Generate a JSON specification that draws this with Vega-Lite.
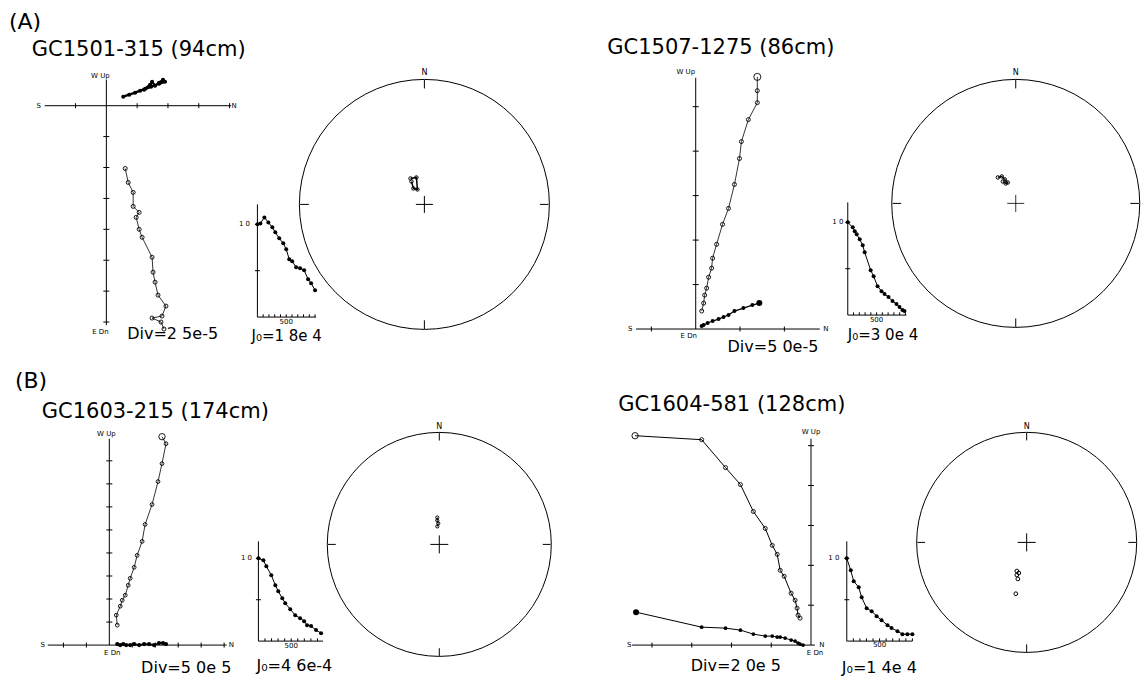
{
"$schema":"https://vega.github.io/schema/vega-lite/v6.json",
"width":1142,"height":677,
"autosize":{"type":"fit","contains":"padding"},
"padding":0,
"background":"white",
"config":{"view":{"stroke":null},"font":"DejaVu Sans","text":{"font":"DejaVu Sans","color":"black"}},
"resolve":{"scale":{"x":"independent","y":"independent"}},
"datasets":{
"zij":[
{"s":"GC1501-315","p":"V","i":0,"x":0.613,"y":-2.032},{"s":"GC1501-315","p":"V","i":1,"x":0.71,"y":-2.484},{"s":"GC1501-315","p":"V","i":2,"x":0.871,"y":-2.806},{"s":"GC1501-315","p":"V","i":3,"x":0.871,"y":-3.258},{"s":"GC1501-315","p":"V","i":4,"x":1.065,"y":-3.452},{"s":"GC1501-315","p":"V","i":5,"x":0.968,"y":-3.613},{"s":"GC1501-315","p":"V","i":6,"x":1.065,"y":-4.0},{"s":"GC1501-315","p":"V","i":7,"x":1.161,"y":-4.258},{"s":"GC1501-315","p":"V","i":8,"x":1.484,"y":-4.903},{"s":"GC1501-315","p":"V","i":9,"x":1.516,"y":-5.387},{"s":"GC1501-315","p":"V","i":10,"x":1.581,"y":-5.71},{"s":"GC1501-315","p":"V","i":11,"x":1.677,"y":-6.129},{"s":"GC1501-315","p":"V","i":12,"x":1.935,"y":-6.484},{"s":"GC1501-315","p":"V","i":13,"x":1.806,"y":-6.806},{"s":"GC1501-315","p":"V","i":14,"x":1.484,"y":-6.871},{"s":"GC1501-315","p":"V","i":15,"x":1.774,"y":-7.0},{"s":"GC1501-315","p":"V","i":16,"x":1.871,"y":-7.226},
{"s":"GC1501-315","p":"H","i":0,"x":0.548,"y":0.29},{"s":"GC1501-315","p":"H","i":1,"x":0.742,"y":0.355},{"s":"GC1501-315","p":"H","i":2,"x":0.935,"y":0.419},{"s":"GC1501-315","p":"H","i":3,"x":1.097,"y":0.484},{"s":"GC1501-315","p":"H","i":4,"x":1.258,"y":0.548},{"s":"GC1501-315","p":"H","i":5,"x":1.419,"y":0.677},{"s":"GC1501-315","p":"H","i":6,"x":1.484,"y":0.774},{"s":"GC1501-315","p":"H","i":7,"x":1.581,"y":0.645},{"s":"GC1501-315","p":"H","i":8,"x":1.71,"y":0.742},{"s":"GC1501-315","p":"H","i":9,"x":1.839,"y":0.839},{"s":"GC1501-315","p":"H","i":10,"x":1.903,"y":0.774},{"s":"GC1501-315","p":"H","i":11,"x":1.71,"y":0.71},{"s":"GC1501-315","p":"H","i":12,"x":1.452,"y":0.613},{"s":"GC1501-315","p":"H","i":13,"x":1.226,"y":0.516},
{"s":"GC1507-1275","p":"V","i":0,"x":1.39,"y":5.67},{"s":"GC1507-1275","p":"V","i":1,"x":1.39,"y":5.36},{"s":"GC1507-1275","p":"V","i":2,"x":1.39,"y":5.09},{"s":"GC1507-1275","p":"V","i":3,"x":1.188,"y":4.709},{"s":"GC1507-1275","p":"V","i":4,"x":1.031,"y":4.215},{"s":"GC1507-1275","p":"V","i":5,"x":0.987,"y":3.834},{"s":"GC1507-1275","p":"V","i":6,"x":0.874,"y":3.251},{"s":"GC1507-1275","p":"V","i":7,"x":0.74,"y":2.713},{"s":"GC1507-1275","p":"V","i":8,"x":0.605,"y":2.354},{"s":"GC1507-1275","p":"V","i":9,"x":0.471,"y":1.906},{"s":"GC1507-1275","p":"V","i":10,"x":0.381,"y":1.592},{"s":"GC1507-1275","p":"V","i":11,"x":0.359,"y":1.368},{"s":"GC1507-1275","p":"V","i":12,"x":0.291,"y":1.166},{"s":"GC1507-1275","p":"V","i":13,"x":0.247,"y":0.919},{"s":"GC1507-1275","p":"V","i":14,"x":0.202,"y":0.762},{"s":"GC1507-1275","p":"V","i":15,"x":0.179,"y":0.583},{"s":"GC1507-1275","p":"V","i":16,"x":0.135,"y":0.404},
{"s":"GC1507-1275","p":"H","i":0,"x":1.435,"y":0.583},{"s":"GC1507-1275","p":"H","i":1,"x":1.278,"y":0.538},{"s":"GC1507-1275","p":"H","i":2,"x":1.076,"y":0.471},{"s":"GC1507-1275","p":"H","i":3,"x":0.874,"y":0.404},{"s":"GC1507-1275","p":"H","i":4,"x":0.74,"y":0.314},{"s":"GC1507-1275","p":"H","i":5,"x":0.628,"y":0.269},{"s":"GC1507-1275","p":"H","i":6,"x":0.516,"y":0.224},{"s":"GC1507-1275","p":"H","i":7,"x":0.381,"y":0.179},{"s":"GC1507-1275","p":"H","i":8,"x":0.269,"y":0.135},{"s":"GC1507-1275","p":"H","i":9,"x":0.179,"y":0.09},{"s":"GC1507-1275","p":"H","i":10,"x":0.135,"y":0.067},
{"s":"GC1603-215","p":"V","i":0,"x":2.294,"y":9.048},{"s":"GC1603-215","p":"V","i":1,"x":2.468,"y":8.745},{"s":"GC1603-215","p":"V","i":2,"x":2.294,"y":7.879},{"s":"GC1603-215","p":"V","i":3,"x":2.121,"y":7.1},{"s":"GC1603-215","p":"V","i":4,"x":1.861,"y":6.104},{"s":"GC1603-215","p":"V","i":5,"x":1.558,"y":5.238},{"s":"GC1603-215","p":"V","i":6,"x":1.429,"y":4.502},{"s":"GC1603-215","p":"V","i":7,"x":1.212,"y":3.896},{"s":"GC1603-215","p":"V","i":8,"x":1.082,"y":3.377},{"s":"GC1603-215","p":"V","i":9,"x":0.909,"y":2.9},{"s":"GC1603-215","p":"V","i":10,"x":0.823,"y":2.597},{"s":"GC1603-215","p":"V","i":11,"x":0.693,"y":2.165},{"s":"GC1603-215","p":"V","i":12,"x":0.563,"y":1.948},{"s":"GC1603-215","p":"V","i":13,"x":0.476,"y":1.688},{"s":"GC1603-215","p":"V","i":14,"x":0.303,"y":1.299},{"s":"GC1603-215","p":"V","i":15,"x":0.346,"y":0.866},
{"s":"GC1603-215","p":"H","i":0,"x":2.468,"y":0.043},{"s":"GC1603-215","p":"H","i":1,"x":2.338,"y":0.087},{"s":"GC1603-215","p":"H","i":2,"x":2.165,"y":0.087},{"s":"GC1603-215","p":"H","i":3,"x":1.948,"y":0.0},{"s":"GC1603-215","p":"H","i":4,"x":1.732,"y":0.043},{"s":"GC1603-215","p":"H","i":5,"x":1.515,"y":0.043},{"s":"GC1603-215","p":"H","i":6,"x":1.299,"y":0.0},{"s":"GC1603-215","p":"H","i":7,"x":1.082,"y":0.043},{"s":"GC1603-215","p":"H","i":8,"x":0.909,"y":0.0},{"s":"GC1603-215","p":"H","i":9,"x":0.736,"y":0.0},{"s":"GC1603-215","p":"H","i":10,"x":0.606,"y":0.043},{"s":"GC1603-215","p":"H","i":11,"x":0.476,"y":0.0},{"s":"GC1603-215","p":"H","i":12,"x":0.346,"y":0.043},
{"s":"GC1604-581","p":"V","i":0,"x":-4.425,"y":5.25},{"s":"GC1604-581","p":"V","i":1,"x":-2.75,"y":5.15},{"s":"GC1604-581","p":"V","i":2,"x":-2.15,"y":4.45},{"s":"GC1604-581","p":"V","i":3,"x":-1.775,"y":4.025},{"s":"GC1604-581","p":"V","i":4,"x":-1.45,"y":3.35},{"s":"GC1604-581","p":"V","i":5,"x":-1.15,"y":2.925},{"s":"GC1604-581","p":"V","i":6,"x":-0.975,"y":2.5},{"s":"GC1604-581","p":"V","i":7,"x":-0.85,"y":2.275},{"s":"GC1604-581","p":"V","i":8,"x":-0.775,"y":1.875},{"s":"GC1604-581","p":"V","i":9,"x":-0.675,"y":1.725},{"s":"GC1604-581","p":"V","i":10,"x":-0.5,"y":1.3},{"s":"GC1604-581","p":"V","i":11,"x":-0.4,"y":1.125},{"s":"GC1604-581","p":"V","i":12,"x":-0.35,"y":0.925},{"s":"GC1604-581","p":"V","i":13,"x":-0.325,"y":0.75},{"s":"GC1604-581","p":"V","i":14,"x":-0.275,"y":0.675},
{"s":"GC1604-581","p":"H","i":0,"x":-4.4,"y":0.825},{"s":"GC1604-581","p":"H","i":1,"x":-2.75,"y":0.45},{"s":"GC1604-581","p":"H","i":2,"x":-2.15,"y":0.425},{"s":"GC1604-581","p":"H","i":3,"x":-1.775,"y":0.375},{"s":"GC1604-581","p":"H","i":4,"x":-1.45,"y":0.275},{"s":"GC1604-581","p":"H","i":5,"x":-1.15,"y":0.225},{"s":"GC1604-581","p":"H","i":6,"x":-0.975,"y":0.225},{"s":"GC1604-581","p":"H","i":7,"x":-0.85,"y":0.2},{"s":"GC1604-581","p":"H","i":8,"x":-0.775,"y":0.2},{"s":"GC1604-581","p":"H","i":9,"x":-0.65,"y":0.175},{"s":"GC1604-581","p":"H","i":10,"x":-0.5,"y":0.125},{"s":"GC1604-581","p":"H","i":11,"x":-0.4,"y":0.1},{"s":"GC1604-581","p":"H","i":12,"x":-0.325,"y":0.05},{"s":"GC1604-581","p":"H","i":13,"x":-0.275,"y":0.025},{"s":"GC1604-581","p":"H","i":14,"x":-0.2,"y":0.0}
],
"zaxes":[
{"s":"GC1501-315","x":-2.0,"y":0,"x2":4.05,"y2":0},{"s":"GC1501-315","x":0,"y":0.839,"x2":0,"y2":-7.1},
{"s":"GC1507-1275","x":-1.345,"y":0,"x2":2.8,"y2":0},{"s":"GC1507-1275","x":0,"y":5.65,"x2":0,"y2":0},
{"s":"GC1603-215","x":-2.684,"y":0,"x2":5.108,"y2":0},{"s":"GC1603-215","x":0,"y":8.96,"x2":0,"y2":0},
{"s":"GC1604-581","x":-4.5,"y":0,"x2":0.1,"y2":0},{"s":"GC1604-581","x":0,"y":5.175,"x2":0,"y2":0}
],
"zticks":[
{"s":"GC1501-315","ax":"v","x":0,"y":-1},{"s":"GC1501-315","ax":"v","x":0,"y":-2},{"s":"GC1501-315","ax":"v","x":0,"y":-3},{"s":"GC1501-315","ax":"v","x":0,"y":-4},{"s":"GC1501-315","ax":"v","x":0,"y":-5},{"s":"GC1501-315","ax":"v","x":0,"y":-6},{"s":"GC1501-315","ax":"v","x":0,"y":-7},
{"s":"GC1501-315","ax":"h","x":-1,"y":0},{"s":"GC1501-315","ax":"h","x":1,"y":0},{"s":"GC1501-315","ax":"h","x":2,"y":0},{"s":"GC1501-315","ax":"h","x":3,"y":0},{"s":"GC1501-315","ax":"h","x":4,"y":0},
{"s":"GC1507-1275","ax":"v","x":0,"y":1},{"s":"GC1507-1275","ax":"v","x":0,"y":2},{"s":"GC1507-1275","ax":"v","x":0,"y":3},{"s":"GC1507-1275","ax":"v","x":0,"y":4},{"s":"GC1507-1275","ax":"v","x":0,"y":5},
{"s":"GC1507-1275","ax":"h","x":-1,"y":0},{"s":"GC1507-1275","ax":"h","x":1,"y":0},{"s":"GC1507-1275","ax":"h","x":2,"y":0},
{"s":"GC1603-215","ax":"v","x":0,"y":1},{"s":"GC1603-215","ax":"v","x":0,"y":2},{"s":"GC1603-215","ax":"v","x":0,"y":3},{"s":"GC1603-215","ax":"v","x":0,"y":4},{"s":"GC1603-215","ax":"v","x":0,"y":5},{"s":"GC1603-215","ax":"v","x":0,"y":6},{"s":"GC1603-215","ax":"v","x":0,"y":7},{"s":"GC1603-215","ax":"v","x":0,"y":8},
{"s":"GC1603-215","ax":"h","x":-2,"y":0},{"s":"GC1603-215","ax":"h","x":-1,"y":0},{"s":"GC1603-215","ax":"h","x":1,"y":0},{"s":"GC1603-215","ax":"h","x":2,"y":0},{"s":"GC1603-215","ax":"h","x":3,"y":0},{"s":"GC1603-215","ax":"h","x":4,"y":0},{"s":"GC1603-215","ax":"h","x":5,"y":0},
{"s":"GC1604-581","ax":"v","x":0,"y":1},{"s":"GC1604-581","ax":"v","x":0,"y":2},{"s":"GC1604-581","ax":"v","x":0,"y":3},{"s":"GC1604-581","ax":"v","x":0,"y":4},{"s":"GC1604-581","ax":"v","x":0,"y":5},
{"s":"GC1604-581","ax":"h","x":-1,"y":0},{"s":"GC1604-581","ax":"h","x":-2,"y":0},{"s":"GC1604-581","ax":"h","x":-3,"y":0},{"s":"GC1604-581","ax":"h","x":-4,"y":0}
],
"decay":[
{"s":"GC1501-315","x":0,"y":1.0},{"s":"GC1501-315","x":52,"y":1.01},{"s":"GC1501-315","x":121,"y":1.075},{"s":"GC1501-315","x":190,"y":1.02},{"s":"GC1501-315","x":259,"y":0.968},{"s":"GC1501-315","x":310,"y":0.914},{"s":"GC1501-315","x":379,"y":0.849},{"s":"GC1501-315","x":448,"y":0.796},{"s":"GC1501-315","x":500,"y":0.731},{"s":"GC1501-315","x":552,"y":0.624},{"s":"GC1501-315","x":603,"y":0.602},{"s":"GC1501-315","x":672,"y":0.538},{"s":"GC1501-315","x":741,"y":0.527},{"s":"GC1501-315","x":810,"y":0.505},{"s":"GC1501-315","x":879,"y":0.409},{"s":"GC1501-315","x":931,"y":0.366},{"s":"GC1501-315","x":1000,"y":0.29},
{"s":"GC1507-1275","x":0,"y":1.0},{"s":"GC1507-1275","x":86,"y":0.946},{"s":"GC1507-1275","x":121,"y":0.903},{"s":"GC1507-1275","x":155,"y":0.871},{"s":"GC1507-1275","x":207,"y":0.817},{"s":"GC1507-1275","x":259,"y":0.753},{"s":"GC1507-1275","x":293,"y":0.677},{"s":"GC1507-1275","x":397,"y":0.484},{"s":"GC1507-1275","x":448,"y":0.419},{"s":"GC1507-1275","x":517,"y":0.312},{"s":"GC1507-1275","x":586,"y":0.258},{"s":"GC1507-1275","x":638,"y":0.226},{"s":"GC1507-1275","x":707,"y":0.194},{"s":"GC1507-1275","x":776,"y":0.151},{"s":"GC1507-1275","x":845,"y":0.118},{"s":"GC1507-1275","x":897,"y":0.086},{"s":"GC1507-1275","x":948,"y":0.054},{"s":"GC1507-1275","x":983,"y":0.043},
{"s":"GC1603-215","x":0,"y":1.0},{"s":"GC1603-215","x":76,"y":0.976},{"s":"GC1603-215","x":121,"y":0.904},{"s":"GC1603-215","x":197,"y":0.795},{"s":"GC1603-215","x":258,"y":0.675},{"s":"GC1603-215","x":303,"y":0.602},{"s":"GC1603-215","x":364,"y":0.518},{"s":"GC1603-215","x":409,"y":0.458},{"s":"GC1603-215","x":485,"y":0.386},{"s":"GC1603-215","x":561,"y":0.313},{"s":"GC1603-215","x":636,"y":0.277},{"s":"GC1603-215","x":697,"y":0.241},{"s":"GC1603-215","x":742,"y":0.193},{"s":"GC1603-215","x":803,"y":0.181},{"s":"GC1603-215","x":879,"y":0.133},{"s":"GC1603-215","x":955,"y":0.096},
{"s":"GC1604-581","x":0,"y":1.0},{"s":"GC1604-581","x":61,"y":0.855},{"s":"GC1604-581","x":106,"y":0.723},{"s":"GC1604-581","x":182,"y":0.651},{"s":"GC1604-581","x":227,"y":0.53},{"s":"GC1604-581","x":303,"y":0.398},{"s":"GC1604-581","x":379,"y":0.361},{"s":"GC1604-581","x":455,"y":0.301},{"s":"GC1604-581","x":530,"y":0.253},{"s":"GC1604-581","x":621,"y":0.193},{"s":"GC1604-581","x":682,"y":0.157},{"s":"GC1604-581","x":773,"y":0.12},{"s":"GC1604-581","x":848,"y":0.084},{"s":"GC1604-581","x":924,"y":0.084},{"s":"GC1604-581","x":1000,"y":0.084}
],
"daxes":[
{"s":"GC1501-315","x":0,"y":0,"x2":0,"y2":1.215},{"s":"GC1501-315","x":0,"y":0,"x2":1017,"y2":0},
{"s":"GC1507-1275","x":0,"y":0,"x2":0,"y2":1.215},{"s":"GC1507-1275","x":0,"y":0,"x2":1017,"y2":0},
{"s":"GC1603-215","x":0,"y":0,"x2":0,"y2":1.205},{"s":"GC1603-215","x":0,"y":0,"x2":985,"y2":0},
{"s":"GC1604-581","x":0,"y":0,"x2":0,"y2":1.205},{"s":"GC1604-581","x":0,"y":0,"x2":1000,"y2":0}
],
"dticks":[
{"ax":"v","x":0,"y":0.5},{"ax":"v","x":0,"y":1.0},
{"ax":"h","x":100,"y":0},{"ax":"h","x":200,"y":0},{"ax":"h","x":300,"y":0},{"ax":"h","x":400,"y":0},{"ax":"h","x":500,"y":0},{"ax":"h","x":600,"y":0},{"ax":"h","x":700,"y":0},{"ax":"h","x":800,"y":0},{"ax":"h","x":900,"y":0},{"ax":"h","x":1000,"y":0}
],
"dirs":[
{"s":"GC1501-315","i":0,"x":-0.112,"y":0.208},{"s":"GC1501-315","i":1,"x":-0.064,"y":0.216},{"s":"GC1501-315","i":2,"x":-0.056,"y":0.12},{"s":"GC1501-315","i":3,"x":-0.088,"y":0.128},{"s":"GC1501-315","i":4,"x":-0.104,"y":0.184},
{"s":"GC1507-1275","i":0,"x":-0.145,"y":0.21},{"s":"GC1507-1275","i":1,"x":-0.113,"y":0.218},{"s":"GC1507-1275","i":2,"x":-0.089,"y":0.194},{"s":"GC1507-1275","i":3,"x":-0.065,"y":0.169},{"s":"GC1507-1275","i":4,"x":-0.081,"y":0.161},{"s":"GC1507-1275","i":5,"x":-0.105,"y":0.177},
{"s":"GC1603-215","i":0,"x":-0.018,"y":0.241},{"s":"GC1603-215","i":1,"x":-0.018,"y":0.214},{"s":"GC1603-215","i":2,"x":-0.009,"y":0.188},{"s":"GC1603-215","i":3,"x":-0.018,"y":0.161},
{"s":"GC1604-581","i":0,"x":-0.09,"y":-0.261},{"s":"GC1604-581","i":1,"x":-0.072,"y":-0.279},{"s":"GC1604-581","i":2,"x":-0.09,"y":-0.297},{"s":"GC1604-581","i":3,"x":-0.081,"y":-0.333},{"s":"GC1604-581","i":4,"x":-0.099,"y":-0.468}
],
"net":[{"x":0,"y":1,"x2":0,"y2":0.93},{"x":0,"y":-1,"x2":0,"y2":-0.93},{"x":1,"y":0,"x2":0.93,"y2":0},{"x":-1,"y":0,"x2":-0.93,"y2":0}],
"center":[{"x":0,"y":0}],
"netlabel":[{"x":0,"y":1.055,"text":"N"}],
"labels":[
{"s":"GC1501-315","plot":"zij","role":"panel","x":-3.161,"y":2.484,"text":"(A)"},
{"s":"GC1501-315","plot":"zij","role":"title","x":-2.419,"y":1.613,"text":"GC1501-315 (94cm)"},
{"s":"GC1501-315","plot":"zij","role":"note","x":0.677,"y":-7.548,"text":"Div=2 5e-5"},
{"s":"GC1501-315","plot":"zij","role":"tiny","x":-0.194,"y":0.968,"text":"W Up"},
{"s":"GC1501-315","plot":"zij","role":"tiny","x":-0.194,"y":-7.323,"text":"E Dn"},
{"s":"GC1501-315","plot":"zij","role":"tiny","x":-2.194,"y":0,"text":"S"},
{"s":"GC1501-315","plot":"zij","role":"tiny","x":4.15,"y":0,"text":"N"},
{"s":"GC1501-315","plot":"decay","role":"tiny","x":-224,"y":1.0,"text":"1 0"},
{"s":"GC1501-315","plot":"decay","role":"tiny","x":500,"y":-0.054,"text":"500"},
{"s":"GC1501-315","plot":"decay","role":"note","x":-103,"y":-0.258,"text":"J₀=1 8e 4"},
{"s":"GC1507-1275","plot":"zij","role":"title","x":-1.996,"y":6.188,"text":"GC1507-1275 (86cm)"},
{"s":"GC1507-1275","plot":"zij","role":"note","x":0.717,"y":-0.516,"text":"Div=5 0e-5"},
{"s":"GC1507-1275","plot":"zij","role":"tiny","x":-0.224,"y":5.785,"text":"W Up"},
{"s":"GC1507-1275","plot":"zij","role":"tiny","x":-0.157,"y":-0.157,"text":"E Dn"},
{"s":"GC1507-1275","plot":"zij","role":"tiny","x":-1.48,"y":0,"text":"S"},
{"s":"GC1507-1275","plot":"zij","role":"tiny","x":2.937,"y":0,"text":"N"},
{"s":"GC1507-1275","plot":"decay","role":"tiny","x":-172,"y":1.0,"text":"1 0"},
{"s":"GC1507-1275","plot":"decay","role":"tiny","x":500,"y":-0.054,"text":"500"},
{"s":"GC1507-1275","plot":"decay","role":"note","x":0,"y":-0.269,"text":"J₀=3 0e 4"},
{"s":"GC1603-215","plot":"zij","role":"panel","x":-4.113,"y":11.169,"text":"(B)"},
{"s":"GC1603-215","plot":"zij","role":"title","x":-2.944,"y":9.87,"text":"GC1603-215 (174cm)"},
{"s":"GC1603-215","plot":"zij","role":"note","x":1.385,"y":-1.212,"text":"Div=5 0e 5"},
{"s":"GC1603-215","plot":"zij","role":"tiny","x":-0.13,"y":9.177,"text":"W Up"},
{"s":"GC1603-215","plot":"zij","role":"tiny","x":0.13,"y":-0.346,"text":"E Dn"},
{"s":"GC1603-215","plot":"zij","role":"tiny","x":-2.9,"y":0,"text":"S"},
{"s":"GC1603-215","plot":"zij","role":"tiny","x":5.32,"y":0,"text":"N"},
{"s":"GC1603-215","plot":"decay","role":"tiny","x":-182,"y":1.0,"text":"1 0"},
{"s":"GC1603-215","plot":"decay","role":"tiny","x":500,"y":-0.06,"text":"500"},
{"s":"GC1603-215","plot":"decay","role":"note","x":-30,"y":-0.361,"text":"J₀=4 6e-4"},
{"s":"GC1604-581","plot":"zij","role":"title","x":-4.85,"y":5.875,"text":"GC1604-581 (128cm)"},
{"s":"GC1604-581","plot":"zij","role":"note","x":-3.025,"y":-0.65,"text":"Div=2 0e 5"},
{"s":"GC1604-581","plot":"zij","role":"tiny","x":0,"y":5.35,"text":"W Up"},
{"s":"GC1604-581","plot":"zij","role":"tiny","x":0.1,"y":-0.2,"text":"E Dn"},
{"s":"GC1604-581","plot":"zij","role":"tiny","x":-4.575,"y":0,"text":"S"},
{"s":"GC1604-581","plot":"zij","role":"tiny","x":0.275,"y":0,"text":"N"},
{"s":"GC1604-581","plot":"decay","role":"tiny","x":-197,"y":1.0,"text":"1 0"},
{"s":"GC1604-581","plot":"decay","role":"tiny","x":500,"y":-0.05,"text":"500"},
{"s":"GC1604-581","plot":"decay","role":"note","x":-76,"y":-0.386,"text":"J₀=1 4e 4"}
]
},
"layer":[
{"encoding":{"x":{"field":"x","type":"quantitative","axis":null,"scale":{"domain":[-3.4516,33.3871],"nice":false,"zero":false}},"y":{"field":"y","type":"quantitative","axis":null,"scale":{"domain":[-18.4194,3.4194],"nice":false,"zero":false}}},
"layer":[
{"data":{"name":"zaxes"},"transform":[{"filter":"datum.s==='GC1501-315'"}],"mark":{"type":"rule","color":"black","strokeWidth":1},"encoding":{"x2":{"field":"x2"},"y2":{"field":"y2"}}},
{"data":{"name":"zticks"},"transform":[{"filter":"datum.s==='GC1501-315' && datum.ax==='v'"}],"mark":{"type":"point","shape":"M-1,0L1,0","size":36,"filled":false,"color":"black","strokeWidth":1,"opacity":1}},
{"data":{"name":"zticks"},"transform":[{"filter":"datum.s==='GC1501-315' && datum.ax==='h'"}],"mark":{"type":"point","shape":"M0,-1L0,1","size":25,"filled":false,"color":"black","strokeWidth":1,"opacity":1}},
{"data":{"name":"zij"},"transform":[{"filter":"datum.s==='GC1501-315' && datum.p==='H'"}],"mark":{"type":"line","color":"black","strokeWidth":2.4},"encoding":{"order":{"field":"i","type":"quantitative"}}},
{"data":{"name":"zij"},"transform":[{"filter":"datum.s==='GC1501-315' && datum.p==='H'"}],"mark":{"type":"point","filled":true,"color":"black","size":16,"opacity":1}},
{"data":{"name":"zij"},"transform":[{"filter":"datum.s==='GC1501-315' && datum.p==='V'"}],"mark":{"type":"line","color":"black","strokeWidth":0.8},"encoding":{"order":{"field":"i","type":"quantitative"}}},
{"data":{"name":"zij"},"transform":[{"filter":"datum.s==='GC1501-315' && datum.p==='V'"}],"mark":{"type":"point","filled":false,"color":"black","size":16,"strokeWidth":0.9,"opacity":1}},
{"data":{"name":"labels"},"transform":[{"filter":"datum.s==='GC1501-315' && datum.plot==='zij' && datum.role==='tiny'"}],"mark":{"type":"text","fontSize":7,"align":"center","baseline":"middle"},"encoding":{"text":{"field":"text"}}},
{"data":{"name":"labels"},"transform":[{"filter":"datum.s==='GC1501-315' && datum.plot==='zij' && datum.role==='note'"}],"mark":{"type":"text","fontSize":16,"align":"left","baseline":"alphabetic"},"encoding":{"text":{"field":"text"}}},
{"data":{"name":"labels"},"transform":[{"filter":"datum.s==='GC1501-315' && datum.plot==='zij' && datum.role==='title'"}],"mark":{"type":"text","fontSize":21,"align":"left","baseline":"alphabetic"},"encoding":{"text":{"field":"text"}}},
{"data":{"name":"labels"},"transform":[{"filter":"datum.s==='GC1501-315' && datum.plot==='zij' && datum.role==='panel'"}],"mark":{"type":"text","fontSize":22,"align":"left","baseline":"alphabetic"},"encoding":{"text":{"field":"text"}}}
]},
{"encoding":{"x":{"field":"x","type":"quantitative","axis":null,"scale":{"domain":[-15.6951,9.9103],"nice":false,"zero":false}},"y":{"field":"y","type":"quantitative","axis":null,"scale":{"domain":[-7.7803,7.3991],"nice":false,"zero":false}}},
"layer":[
{"data":{"name":"zaxes"},"transform":[{"filter":"datum.s==='GC1507-1275'"}],"mark":{"type":"rule","color":"black","strokeWidth":1},"encoding":{"x2":{"field":"x2"},"y2":{"field":"y2"}}},
{"data":{"name":"zticks"},"transform":[{"filter":"datum.s==='GC1507-1275' && datum.ax==='v'"}],"mark":{"type":"point","shape":"M-1,0L1,0","size":36,"filled":false,"color":"black","strokeWidth":1,"opacity":1}},
{"data":{"name":"zticks"},"transform":[{"filter":"datum.s==='GC1507-1275' && datum.ax==='h'"}],"mark":{"type":"point","shape":"M0,-1L0,1","size":25,"filled":false,"color":"black","strokeWidth":1,"opacity":1}},
{"data":{"name":"zij"},"transform":[{"filter":"datum.s==='GC1507-1275' && datum.p==='H'"}],"mark":{"type":"line","color":"black","strokeWidth":1.2},"encoding":{"order":{"field":"i","type":"quantitative"}}},
{"data":{"name":"zij"},"transform":[{"filter":"datum.s==='GC1507-1275' && datum.p==='H'"}],"mark":{"type":"point","filled":true,"color":"black","opacity":1},"encoding":{"size":{"condition":{"test":"datum.i===0","value":36},"value":16}}},
{"data":{"name":"zij"},"transform":[{"filter":"datum.s==='GC1507-1275' && datum.p==='V'"}],"mark":{"type":"line","color":"black","strokeWidth":0.8},"encoding":{"order":{"field":"i","type":"quantitative"}}},
{"data":{"name":"zij"},"transform":[{"filter":"datum.s==='GC1507-1275' && datum.p==='V'"}],"mark":{"type":"point","filled":false,"color":"black","strokeWidth":0.9,"opacity":1},"encoding":{"size":{"condition":{"test":"datum.i===0","value":50},"value":16}}},
{"data":{"name":"labels"},"transform":[{"filter":"datum.s==='GC1507-1275' && datum.plot==='zij' && datum.role==='tiny'"}],"mark":{"type":"text","fontSize":7,"align":"center","baseline":"middle"},"encoding":{"text":{"field":"text"}}},
{"data":{"name":"labels"},"transform":[{"filter":"datum.s==='GC1507-1275' && datum.plot==='zij' && datum.role==='note'"}],"mark":{"type":"text","fontSize":16,"align":"left","baseline":"alphabetic"},"encoding":{"text":{"field":"text"}}},
{"data":{"name":"labels"},"transform":[{"filter":"datum.s==='GC1507-1275' && datum.plot==='zij' && datum.role==='title'"}],"mark":{"type":"text","fontSize":21,"align":"left","baseline":"alphabetic"},"encoding":{"text":{"field":"text"}}}
]},
{"encoding":{"x":{"field":"x","type":"quantitative","axis":null,"scale":{"domain":[-4.7619,44.6753],"nice":false,"zero":false}},"y":{"field":"y","type":"quantitative","axis":null,"scale":{"domain":[-1.2987,28.0087],"nice":false,"zero":false}}},
"layer":[
{"data":{"name":"zaxes"},"transform":[{"filter":"datum.s==='GC1603-215'"}],"mark":{"type":"rule","color":"black","strokeWidth":1},"encoding":{"x2":{"field":"x2"},"y2":{"field":"y2"}}},
{"data":{"name":"zticks"},"transform":[{"filter":"datum.s==='GC1603-215' && datum.ax==='v'"}],"mark":{"type":"point","shape":"M-1,0L1,0","size":36,"filled":false,"color":"black","strokeWidth":1,"opacity":1}},
{"data":{"name":"zticks"},"transform":[{"filter":"datum.s==='GC1603-215' && datum.ax==='h'"}],"mark":{"type":"point","shape":"M0,-1L0,1","size":25,"filled":false,"color":"black","strokeWidth":1,"opacity":1}},
{"data":{"name":"zij"},"transform":[{"filter":"datum.s==='GC1603-215' && datum.p==='H'"}],"mark":{"type":"line","color":"black","strokeWidth":1.6},"encoding":{"order":{"field":"i","type":"quantitative"}}},
{"data":{"name":"zij"},"transform":[{"filter":"datum.s==='GC1603-215' && datum.p==='H'"}],"mark":{"type":"point","filled":true,"color":"black","size":18,"opacity":1}},
{"data":{"name":"zij"},"transform":[{"filter":"datum.s==='GC1603-215' && datum.p==='V'"}],"mark":{"type":"line","color":"black","strokeWidth":0.8},"encoding":{"order":{"field":"i","type":"quantitative"}}},
{"data":{"name":"zij"},"transform":[{"filter":"datum.s==='GC1603-215' && datum.p==='V'"}],"mark":{"type":"point","filled":false,"color":"black","strokeWidth":0.9,"opacity":1},"encoding":{"size":{"condition":{"test":"datum.i===0","value":40},"value":14}}},
{"data":{"name":"labels"},"transform":[{"filter":"datum.s==='GC1603-215' && datum.plot==='zij' && datum.role==='tiny'"}],"mark":{"type":"text","fontSize":7,"align":"center","baseline":"middle"},"encoding":{"text":{"field":"text"}}},
{"data":{"name":"labels"},"transform":[{"filter":"datum.s==='GC1603-215' && datum.plot==='zij' && datum.role==='note'"}],"mark":{"type":"text","fontSize":16,"align":"left","baseline":"alphabetic"},"encoding":{"text":{"field":"text"}}},
{"data":{"name":"labels"},"transform":[{"filter":"datum.s==='GC1603-215' && datum.plot==='zij' && datum.role==='title'"}],"mark":{"type":"text","fontSize":21,"align":"left","baseline":"alphabetic"},"encoding":{"text":{"field":"text"}}},
{"data":{"name":"labels"},"transform":[{"filter":"datum.s==='GC1603-215' && datum.plot==='zij' && datum.role==='panel'"}],"mark":{"type":"text","fontSize":22,"align":"left","baseline":"alphabetic"},"encoding":{"text":{"field":"text"}}}
]},
{"encoding":{"x":{"field":"x","type":"quantitative","axis":null,"scale":{"domain":[-20.4,8.15],"nice":false,"zero":false}},"y":{"field":"y","type":"quantitative","axis":null,"scale":{"domain":[-0.75,16.175],"nice":false,"zero":false}}},
"layer":[
{"data":{"name":"zaxes"},"transform":[{"filter":"datum.s==='GC1604-581'"}],"mark":{"type":"rule","color":"black","strokeWidth":1},"encoding":{"x2":{"field":"x2"},"y2":{"field":"y2"}}},
{"data":{"name":"zticks"},"transform":[{"filter":"datum.s==='GC1604-581' && datum.ax==='v'"}],"mark":{"type":"point","shape":"M-1,0L1,0","size":36,"filled":false,"color":"black","strokeWidth":1,"opacity":1}},
{"data":{"name":"zticks"},"transform":[{"filter":"datum.s==='GC1604-581' && datum.ax==='h'"}],"mark":{"type":"point","shape":"M0,-1L0,1","size":25,"filled":false,"color":"black","strokeWidth":1,"opacity":1}},
{"data":{"name":"zij"},"transform":[{"filter":"datum.s==='GC1604-581' && datum.p==='H'"}],"mark":{"type":"line","color":"black","strokeWidth":1},"encoding":{"order":{"field":"i","type":"quantitative"}}},
{"data":{"name":"zij"},"transform":[{"filter":"datum.s==='GC1604-581' && datum.p==='H'"}],"mark":{"type":"point","filled":true,"color":"black","opacity":1},"encoding":{"size":{"condition":{"test":"datum.i===0","value":36},"value":14}}},
{"data":{"name":"zij"},"transform":[{"filter":"datum.s==='GC1604-581' && datum.p==='V'"}],"mark":{"type":"line","color":"black","strokeWidth":1},"encoding":{"order":{"field":"i","type":"quantitative"}}},
{"data":{"name":"zij"},"transform":[{"filter":"datum.s==='GC1604-581' && datum.p==='V'"}],"mark":{"type":"point","filled":false,"color":"black","strokeWidth":0.9,"opacity":1},"encoding":{"size":{"condition":{"test":"datum.i===0","value":40},"value":16}}},
{"data":{"name":"labels"},"transform":[{"filter":"datum.s==='GC1604-581' && datum.plot==='zij' && datum.role==='tiny'"}],"mark":{"type":"text","fontSize":7,"align":"center","baseline":"middle"},"encoding":{"text":{"field":"text"}}},
{"data":{"name":"labels"},"transform":[{"filter":"datum.s==='GC1604-581' && datum.plot==='zij' && datum.role==='note'"}],"mark":{"type":"text","fontSize":16,"align":"left","baseline":"alphabetic"},"encoding":{"text":{"field":"text"}}},
{"data":{"name":"labels"},"transform":[{"filter":"datum.s==='GC1604-581' && datum.plot==='zij' && datum.role==='title'"}],"mark":{"type":"text","fontSize":21,"align":"left","baseline":"alphabetic"},"encoding":{"text":{"field":"text"}}}
]},
{"encoding":{"x":{"field":"x","type":"quantitative","axis":null,"scale":{"domain":[-4465.5,15224.1],"nice":false,"zero":false}},"y":{"field":"y","type":"quantitative","axis":null,"scale":{"domain":[-3.8602,3.4194],"nice":false,"zero":false}}},
"layer":[
{"data":{"name":"daxes"},"transform":[{"filter":"datum.s==='GC1501-315'"}],"mark":{"type":"rule","color":"black","strokeWidth":1},"encoding":{"x2":{"field":"x2"},"y2":{"field":"y2"}}},
{"data":{"name":"dticks"},"transform":[{"filter":"datum.ax==='v'"}],"mark":{"type":"point","shape":"M-1,0L1,0","size":25,"filled":false,"color":"black","strokeWidth":1,"opacity":1}},
{"data":{"name":"dticks"},"transform":[{"filter":"datum.ax==='h'"}],"mark":{"type":"point","shape":"M0,-1L0,0","size":30,"filled":false,"color":"black","strokeWidth":1,"opacity":1}},
{"data":{"name":"decay"},"transform":[{"filter":"datum.s==='GC1501-315'"}],"mark":{"type":"line","color":"black","strokeWidth":1}},
{"data":{"name":"decay"},"transform":[{"filter":"datum.s==='GC1501-315'"}],"mark":{"type":"point","filled":true,"color":"black","size":16,"opacity":1}},
{"data":{"name":"labels"},"transform":[{"filter":"datum.s==='GC1501-315' && datum.plot==='decay' && datum.role==='tiny'"}],"mark":{"type":"text","fontSize":7,"align":"center","baseline":"middle"},"encoding":{"text":{"field":"text"}}},
{"data":{"name":"labels"},"transform":[{"filter":"datum.s==='GC1501-315' && datum.plot==='decay' && datum.role==='note'"}],"mark":{"type":"text","fontSize":15,"align":"left","baseline":"alphabetic"},"encoding":{"text":{"field":"text"}}}
]},
{"encoding":{"x":{"field":"x","type":"quantitative","axis":null,"scale":{"domain":[-14706.9,4982.8],"nice":false,"zero":false}},"y":{"field":"y","type":"quantitative","axis":null,"scale":{"domain":[-3.8817,3.3978],"nice":false,"zero":false}}},
"layer":[
{"data":{"name":"daxes"},"transform":[{"filter":"datum.s==='GC1507-1275'"}],"mark":{"type":"rule","color":"black","strokeWidth":1},"encoding":{"x2":{"field":"x2"},"y2":{"field":"y2"}}},
{"data":{"name":"dticks"},"transform":[{"filter":"datum.ax==='v'"}],"mark":{"type":"point","shape":"M-1,0L1,0","size":25,"filled":false,"color":"black","strokeWidth":1,"opacity":1}},
{"data":{"name":"dticks"},"transform":[{"filter":"datum.ax==='h'"}],"mark":{"type":"point","shape":"M0,-1L0,0","size":30,"filled":false,"color":"black","strokeWidth":1,"opacity":1}},
{"data":{"name":"decay"},"transform":[{"filter":"datum.s==='GC1507-1275'"}],"mark":{"type":"line","color":"black","strokeWidth":1}},
{"data":{"name":"decay"},"transform":[{"filter":"datum.s==='GC1507-1275'"}],"mark":{"type":"point","filled":true,"color":"black","size":16,"opacity":1}},
{"data":{"name":"labels"},"transform":[{"filter":"datum.s==='GC1507-1275' && datum.plot==='decay' && datum.role==='tiny'"}],"mark":{"type":"text","fontSize":7,"align":"center","baseline":"middle"},"encoding":{"text":{"field":"text"}}},
{"data":{"name":"labels"},"transform":[{"filter":"datum.s==='GC1507-1275' && datum.plot==='decay' && datum.role==='note'"}],"mark":{"type":"text","fontSize":15,"align":"left","baseline":"alphabetic"},"encoding":{"text":{"field":"text"}}}
]},
{"encoding":{"x":{"field":"x","type":"quantitative","axis":null,"scale":{"domain":[-3939.4,13363.6],"nice":false,"zero":false}},"y":{"field":"y","type":"quantitative","axis":null,"scale":{"domain":[-0.40964,7.747],"nice":false,"zero":false}}},
"layer":[
{"data":{"name":"daxes"},"transform":[{"filter":"datum.s==='GC1603-215'"}],"mark":{"type":"rule","color":"black","strokeWidth":1},"encoding":{"x2":{"field":"x2"},"y2":{"field":"y2"}}},
{"data":{"name":"dticks"},"transform":[{"filter":"datum.ax==='v'"}],"mark":{"type":"point","shape":"M-1,0L1,0","size":25,"filled":false,"color":"black","strokeWidth":1,"opacity":1}},
{"data":{"name":"dticks"},"transform":[{"filter":"datum.ax==='h' && datum.x<=900"}],"mark":{"type":"point","shape":"M0,-1L0,0","size":30,"filled":false,"color":"black","strokeWidth":1,"opacity":1}},
{"data":{"name":"decay"},"transform":[{"filter":"datum.s==='GC1603-215'"}],"mark":{"type":"line","color":"black","strokeWidth":1}},
{"data":{"name":"decay"},"transform":[{"filter":"datum.s==='GC1603-215'"}],"mark":{"type":"point","filled":true,"color":"black","size":16,"opacity":1}},
{"data":{"name":"labels"},"transform":[{"filter":"datum.s==='GC1603-215' && datum.plot==='decay' && datum.role==='tiny'"}],"mark":{"type":"text","fontSize":7,"align":"center","baseline":"middle"},"encoding":{"text":{"field":"text"}}},
{"data":{"name":"labels"},"transform":[{"filter":"datum.s==='GC1603-215' && datum.plot==='decay' && datum.role==='note'"}],"mark":{"type":"text","fontSize":16,"align":"left","baseline":"alphabetic"},"encoding":{"text":{"field":"text"}}}
]},
{"encoding":{"x":{"field":"x","type":"quantitative","axis":null,"scale":{"domain":[-12909.1,4393.9],"nice":false,"zero":false}},"y":{"field":"y","type":"quantitative","axis":null,"scale":{"domain":[-0.40964,7.747],"nice":false,"zero":false}}},
"layer":[
{"data":{"name":"daxes"},"transform":[{"filter":"datum.s==='GC1604-581'"}],"mark":{"type":"rule","color":"black","strokeWidth":1},"encoding":{"x2":{"field":"x2"},"y2":{"field":"y2"}}},
{"data":{"name":"dticks"},"transform":[{"filter":"datum.ax==='v'"}],"mark":{"type":"point","shape":"M-1,0L1,0","size":25,"filled":false,"color":"black","strokeWidth":1,"opacity":1}},
{"data":{"name":"dticks"},"transform":[{"filter":"datum.ax==='h'"}],"mark":{"type":"point","shape":"M0,-1L0,0","size":30,"filled":false,"color":"black","strokeWidth":1,"opacity":1}},
{"data":{"name":"decay"},"transform":[{"filter":"datum.s==='GC1604-581'"}],"mark":{"type":"line","color":"black","strokeWidth":1}},
{"data":{"name":"decay"},"transform":[{"filter":"datum.s==='GC1604-581'"}],"mark":{"type":"point","filled":true,"color":"black","size":16,"opacity":1}},
{"data":{"name":"labels"},"transform":[{"filter":"datum.s==='GC1604-581' && datum.plot==='decay' && datum.role==='tiny'"}],"mark":{"type":"text","fontSize":7,"align":"center","baseline":"middle"},"encoding":{"text":{"field":"text"}}},
{"data":{"name":"labels"},"transform":[{"filter":"datum.s==='GC1604-581' && datum.plot==='decay' && datum.role==='note'"}],"mark":{"type":"text","fontSize":16,"align":"left","baseline":"alphabetic"},"encoding":{"text":{"field":"text"}}}
]},
{"encoding":{"x":{"field":"x","type":"quantitative","axis":null,"scale":{"domain":[-3.416,5.72],"nice":false,"zero":false}},"y":{"field":"y","type":"quantitative","axis":null,"scale":{"domain":[-3.776,1.64],"nice":false,"zero":false}}},
"layer":[
{"data":{"name":"center"},"mark":{"type":"point","shape":"circle","size":62500,"filled":false,"color":"black","strokeWidth":1,"opacity":1}},
{"data":{"name":"center"},"mark":{"type":"point","shape":"M-1,0L1,0M0,-1L0,1","size":289,"filled":false,"color":"black","strokeWidth":1,"opacity":1}},
{"data":{"name":"net"},"mark":{"type":"rule","color":"black","strokeWidth":1},"encoding":{"x2":{"field":"x2"},"y2":{"field":"y2"}}},
{"data":{"name":"dirs"},"transform":[{"filter":"datum.s==='GC1501-315'"}],"mark":{"type":"line","color":"black","strokeWidth":1.5},"encoding":{"order":{"field":"i","type":"quantitative"}}},
{"data":{"name":"dirs"},"transform":[{"filter":"datum.s==='GC1501-315'"}],"mark":{"type":"point","filled":false,"color":"black","size":12,"strokeWidth":1,"opacity":1}},
{"data":{"name":"netlabel"},"mark":{"type":"text","fontSize":8,"align":"center","baseline":"middle"},"encoding":{"text":{"field":"text"}}}
]},
{"encoding":{"x":{"field":"x","type":"quantitative","axis":null,"scale":{"domain":[-8.2419,0.9677],"nice":false,"zero":false}},"y":{"field":"y","type":"quantitative","axis":null,"scale":{"domain":[-3.8145,1.6452],"nice":false,"zero":false}}},
"layer":[
{"data":{"name":"center"},"mark":{"type":"point","shape":"circle","size":61504,"filled":false,"color":"black","strokeWidth":1,"opacity":1}},
{"data":{"name":"center"},"mark":{"type":"point","shape":"M-1,0L1,0M0,-1L0,1","size":289,"filled":false,"color":"black","strokeWidth":0.8,"opacity":1}},
{"data":{"name":"net"},"mark":{"type":"rule","color":"black","strokeWidth":1},"encoding":{"x2":{"field":"x2"},"y2":{"field":"y2"}}},
{"data":{"name":"dirs"},"transform":[{"filter":"datum.s==='GC1507-1275'"}],"mark":{"type":"line","color":"black","strokeWidth":1.2},"encoding":{"order":{"field":"i","type":"quantitative"}}},
{"data":{"name":"dirs"},"transform":[{"filter":"datum.s==='GC1507-1275'"}],"mark":{"type":"point","filled":false,"color":"black","size":12,"strokeWidth":1,"opacity":1}},
{"data":{"name":"netlabel"},"mark":{"type":"text","fontSize":8,"align":"center","baseline":"middle"},"encoding":{"text":{"field":"text"}}}
]},
{"encoding":{"x":{"field":"x","type":"quantitative","axis":null,"scale":{"domain":[-3.9464,6.25],"nice":false,"zero":false}},"y":{"field":"y","type":"quantitative","axis":null,"scale":{"domain":[-1.1696,4.875],"nice":false,"zero":false}}},
"layer":[
{"data":{"name":"center"},"mark":{"type":"point","shape":"circle","size":50176,"filled":false,"color":"black","strokeWidth":1,"opacity":1}},
{"data":{"name":"center"},"mark":{"type":"point","shape":"M-1,0L1,0M0,-1L0,1","size":324,"filled":false,"color":"black","strokeWidth":1,"opacity":1}},
{"data":{"name":"net"},"mark":{"type":"rule","color":"black","strokeWidth":1},"encoding":{"x2":{"field":"x2"},"y2":{"field":"y2"}}},
{"data":{"name":"dirs"},"transform":[{"filter":"datum.s==='GC1603-215'"}],"mark":{"type":"line","color":"black","strokeWidth":1},"encoding":{"order":{"field":"i","type":"quantitative"}}},
{"data":{"name":"dirs"},"transform":[{"filter":"datum.s==='GC1603-215'"}],"mark":{"type":"point","filled":false,"color":"black","size":10,"strokeWidth":1,"opacity":1}},
{"data":{"name":"netlabel"},"mark":{"type":"text","fontSize":8,"align":"center","baseline":"middle"},"encoding":{"text":{"field":"text"}}}
]},
{"encoding":{"x":{"field":"x","type":"quantitative","axis":null,"scale":{"domain":[-9.3909,0.9909],"nice":false,"zero":false}},"y":{"field":"y","type":"quantitative","axis":null,"scale":{"domain":[-1.2091,4.9455],"nice":false,"zero":false}}},
"layer":[
{"data":{"name":"center"},"mark":{"type":"point","shape":"circle","size":48400,"filled":false,"color":"black","strokeWidth":1,"opacity":1}},
{"data":{"name":"center"},"mark":{"type":"point","shape":"M-1,0L1,0M0,-1L0,1","size":324,"filled":false,"color":"black","strokeWidth":1,"opacity":1}},
{"data":{"name":"net"},"mark":{"type":"rule","color":"black","strokeWidth":1},"encoding":{"x2":{"field":"x2"},"y2":{"field":"y2"}}},
{"data":{"name":"dirs"},"transform":[{"filter":"datum.s==='GC1604-581'"}],"mark":{"type":"point","filled":false,"color":"black","size":14,"strokeWidth":1,"opacity":1}},
{"data":{"name":"netlabel"},"mark":{"type":"text","fontSize":8,"align":"center","baseline":"middle"},"encoding":{"text":{"field":"text"}}}
]}
]
}
